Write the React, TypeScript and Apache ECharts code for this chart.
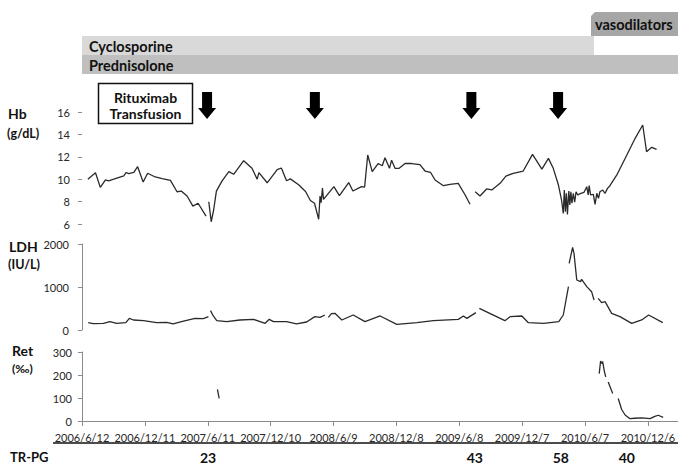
import React, { useEffect, useRef } from 'react';
import * as echarts from 'echarts';

// x values are days since 2006/6/12
const START_UTC = Date.UTC(2006, 5, 12);
const TICK_DAYS = 182;
const X_MAX = 1820;

const hbData: [number, number | null][] = [
  [17, 10.0], [39, 10.58], [53, 9.27], [68, 9.93], [77, 9.86], [92, 10.0], [121, 10.3], [128, 10.6],
  [135, 10.5], [150, 10.6], [161, 11.12], [177, 9.75], [190, 10.53], [212, 10.2], [232, 10.05],
  [256, 9.9], [275, 8.88], [288, 8.93], [304, 8.5], [321, 7.6], [336, 7.85], [359, 6.71], [363, null],
  [367, 7.99], [374, 6.2], [381, 7.25], [389, 8.94], [405, 9.83], [425, 10.68], [439, 10.44],
  [468, 11.65], [492, 10.97], [507, 10.0], [512, 10.58], [536, 9.68], [565, 10.85], [577, 11.0],
  [592, 9.86], [603, 10.03], [627, 9.5], [647, 8.9], [661, 8.1], [673, 7.85], [685, 6.42],
  [689, 8.5], [692, 7.9], [696, 9.2], [699, 8.2], [729, 9.34], [745, 8.54], [772, 9.7], [784, 8.95],
  [809, 9.34], [818, 9.3], [827, 12.16], [840, 10.67], [857, 11.4], [869, 11.2], [877, 11.92],
  [890, 10.97], [896, 11.7], [906, 10.97], [918, 10.97], [935, 11.4], [954, 11.4], [978, 11.3],
  [993, 10.73], [1009, 10.6], [1022, 9.93], [1046, 9.42], [1065, 9.54], [1089, 9.63], [1109, 8.59],
  [1123, 7.76], [1130, null], [1138, 8.88], [1152, 8.5], [1171, 9.13], [1186, 9.04], [1210, 9.63],
  [1227, 10.28], [1248, 10.52], [1277, 10.73], [1304, 12.22], [1331, 10.9], [1350, 11.86],
  [1364, 10.97], [1379, 9.48], [1388, 8.14], [1393, 6.95], [1396, 9.03], [1399, 7.1], [1402, 8.74],
  [1405, 6.86], [1409, 8.94], [1412, 7.7], [1415, 8.88], [1418, 7.85], [1422, 8.74], [1426, 7.94],
  [1430, 8.88], [1435, 8.59], [1442, 8.71], [1453, 8.83], [1461, 9.33], [1465, 8.59], [1468, 9.42],
  [1472, 8.59], [1480, 8.65], [1485, 7.76], [1490, 8.74], [1495, 8.29], [1499, 8.88], [1507, 9.03],
  [1514, 8.74], [1521, 9.18], [1528, 9.42], [1548, 10.38], [1577, 12.16], [1601, 13.65],
  [1623, 14.84], [1634, 12.46], [1649, 12.85], [1663, 12.67],
];

const ldhData: [number, number | null][] = [
  [18, 170], [33, 147], [62, 155], [81, 194], [100, 155], [127, 170], [137, 271], [149, 233],
  [178, 217], [216, 170], [245, 178], [264, 140], [288, 194], [327, 271], [351, 264], [366, 310],
  [369, null], [372, 450], [380, 326], [390, 217], [419, 194], [457, 233], [496, 248], [530, 155],
  [542, 248], [554, 194], [592, 194], [621, 140], [650, 186], [674, 310], [689, 295], [703, 349],
  [708, null], [713, 295], [722, 380], [732, 388], [752, 233], [785, 349], [819, 194], [863, 326],
  [911, 132], [969, 170], [1017, 217], [1089, 248], [1104, 326], [1114, 271], [1140, 403],
  [1145, null], [1150, 504], [1224, 217], [1239, 310], [1273, 326], [1292, 170], [1336, 155],
  [1380, 194], [1393, 349], [1408, 1008], [1409, null], [1410, 1550], [1420, 1922], [1424, 1783],
  [1432, 1163], [1443, 1124], [1446, 1178], [1461, 1008], [1475, 891], [1482, 698], [1488, null],
  [1494, 736], [1504, 636], [1514, 659], [1533, 388], [1557, 310], [1591, 155], [1620, 233],
  [1640, 349], [1681, 170],
];

const retData: [number, number | null][] = [
  [392, 137], [397, 98], [400, null],
  [1497, 206], [1501, 261], [1504, 250], [1507, 258], [1512, 215], [1516, 192], [1519, null],
  [1523, 170], [1536, 120], [1544, null], [1552, 98], [1562, 50], [1572, 26], [1586, 10],
  [1600, 12], [1620, 14], [1644, 10], [1658, 20], [1668, 25], [1682, 16],
];

// annotations (days since start)
const arrowDays = [362, 674, 1127, 1378];
const trpgDays = [365, 1137, 1386, 1577];
const trpgValues = ['23', '43', '58', '40'];

const FONT = 'Lato, "Open Sans", sans-serif';
const PX_PER_DAY = 0.3455;
const GRID_LEFT = 82;
const GRID_W = X_MAX * PX_PER_DAY;

function dayLabel(v: number) {
  if (v % TICK_DAYS !== 0 || v > 1700) return '';
  const d = new Date(START_UTC + v * 86400000);
  return `${d.getUTCFullYear()}/${d.getUTCMonth() + 1}/${d.getUTCDate()}`;
}

export default function App() {
  const ref = useRef<HTMLDivElement>(null);
  useEffect(() => {
    const chart = echarts.init(ref.current!, null, { renderer: 'svg' });
    const axisGray = '#8a8a8a';
    const hiddenX = (gridIndex: number) => ({
      type: 'value', gridIndex, min: 0, max: X_MAX, interval: TICK_DAYS, show: false,
    });
    const yBase = (gridIndex: number, min: number, max: number, interval: number, line: boolean, margin: number) => ({
      type: 'value', gridIndex, min, max, interval,
      axisLine: { show: line, lineStyle: { color: axisGray, width: 1 } },
      axisTick: { show: true, length: 4, lineStyle: { color: axisGray } },
      splitLine: { show: false },
      axisLabel: { fontFamily: FONT, fontSize: 11, color: '#262626', margin, formatter: (v: number) => String(v) },
    });
    const lineSeries = (idx: number, data: any) => ({
      type: 'line', xAxisIndex: idx, yAxisIndex: idx, data, showSymbol: false, symbol: 'none',
      connectNulls: false, lineStyle: { color: '#2a2a2a', width: 1.3 }, silent: true,
    });
    const gridBase = { left: GRID_LEFT, width: GRID_W, outerBoundsMode: 'none', containLabel: false };
    chart.setOption({
      animation: false,
      grid: [
        { ...gridBase, top: 112, height: 112 },
        { ...gridBase, top: 244, height: 86 },
        { ...gridBase, top: 352, height: 69 },
      ],
      xAxis: [
        hiddenX(0),
        hiddenX(1),
        {
          type: 'value', gridIndex: 2, min: 0, max: X_MAX, interval: TICK_DAYS,
          axisLine: { show: true, lineStyle: { color: axisGray, width: 1 } },
          axisTick: { show: true, length: 5, lineStyle: { color: axisGray } },
          splitLine: { show: false },
          axisLabel: {
            fontFamily: FONT, fontSize: 11, color: '#262626', margin: 11, formatter: dayLabel,
            showMinLabel: true, showMaxLabel: false, hideOverlap: false,
          },
        },
      ],
      yAxis: [
        yBase(0, 6, 16, 2, false, 12),
        yBase(1, 0, 2000, 1000, true, 13),
        yBase(2, 0, 300, 100, true, 10),
      ],
      series: [lineSeries(0, hbData), lineSeries(1, ldhData), lineSeries(2, retData)],
    });

    const px = (d: number) => chart.convertToPixel({ xAxisIndex: 0 }, d) as number;
    const bold = (text: string, x: number, y: number, size: number, align = 'left') => ({
      type: 'text', x, y, silent: true,
      style: { text, fill: '#111', font: `bold ${size}px ${FONT}`, textAlign: align, textVerticalAlign: 'middle' },
    });
    const graphics: any[] = [
      { type: 'polygon', shape: { points: [[591, 16], [595, 12], [678, 12], [678, 36], [591, 36]] }, style: { fill: '#a6a6a6' } },
      bold('vasodilators', 595, 24, 14.5),
      { type: 'rect', shape: { x: 82, y: 36, width: 512, height: 19 }, style: { fill: '#d9d9d9' } },
      bold('Cyclosporine', 89, 46, 14.5),
      { type: 'rect', shape: { x: 82, y: 55, width: 596, height: 19 }, style: { fill: '#bfbfbf' } },
      bold('Prednisolone', 89, 65, 14.5),
      { type: 'rect', shape: { x: 98.5, y: 83.5, width: 94, height: 40 }, style: { fill: '#fff', stroke: '#111', lineWidth: 1.5 } },
      bold('Rituximab', 145.5, 97, 14, 'center'),
      bold('Transfusion', 145.5, 113, 14, 'center'),
      bold('Hb', 8, 113, 14),
      bold('(g/dL)', 7, 133, 12.5),
      bold('LDH', 9, 246, 14),
      bold('(IU/L)', 8, 264, 12.5),
      bold('Ret', 12, 350, 14),
      bold('(\u2030)', 12, 368, 12),
      bold('TR-PG', 10, 457, 13),
      { type: 'line', shape: { x1: 53, y1: 443, x2: 678, y2: 443 }, style: { stroke: '#111', lineWidth: 1.5 } },
    ];
    arrowDays.forEach((d) => {
      const cx = px(d);
      graphics.push({
        type: 'polygon',
        shape: { points: [[cx - 5, 92], [cx + 5, 92], [cx + 5, 108], [cx + 9, 108], [cx, 119], [cx - 9, 108], [cx - 5, 108]] },
        style: { fill: '#000' },
      });
    });
    trpgDays.forEach((d, i) => graphics.push(bold(trpgValues[i], px(d), 457, 14, 'center')));
    chart.setOption({ graphic: graphics });
    return () => chart.dispose();
  }, []);
  return <div ref={ref} style={{ position: 'fixed', left: 0, top: 0, width: 678, height: 466, background: '#fff' }} />;
}
